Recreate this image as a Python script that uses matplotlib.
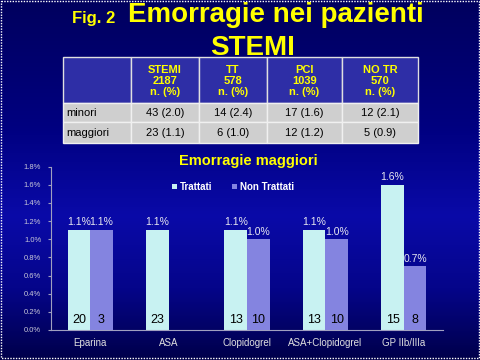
import numpy as np
import matplotlib
matplotlib.use("Agg")
import matplotlib.pyplot as plt
from matplotlib.patches import Rectangle
from matplotlib.colors import LinearSegmentedColormap

# ---------------- data ----------------
categories = ["Eparina", "ASA", "Clopidogrel", "ASA+Clopidogrel", "GP IIb/IIIa"]
trattati = [1.1, 1.1, 1.1, 1.1, 1.6]
non_trattati = [1.1, np.nan, 1.0, 1.0, 0.7]
n_trattati = ["20", "23", "13", "13", "15"]
n_non_trattati = ["3", "", "10", "10", "8"]
series_names = ["Trattati", "Non Trattati"]
yticks = [0.0, 0.2, 0.4, 0.6, 0.8, 1.0, 1.2, 1.4, 1.6, 1.8]

table_header = ["", "STEMI\n2187\nn. (%)", "TT\n578\nn. (%)", "PCI\n1039\nn. (%)", "NO TR\n570\nn. (%)"]
table_rows = [
    ["minori", "43 (2.0)", "14 (2.4)", "17 (1.6)", "12 (2.1)"],
    ["maggiori", "23 (1.1)", "6 (1.0)", "12 (1.2)", "5 (0.9)"],
]

W, H = 481, 360
FONT = "Liberation Sans"
fig = plt.figure(figsize=(W / 100, H / 100), dpi=100)

# background gradient
bg = fig.add_axes([0, 0, 1, 1])
cmap = LinearSegmentedColormap.from_list(
    "bgc", [(0, "#00005e"), (0.35, "#000080"), (0.6, "#0a0aa8"), (0.8, "#05058a"), (1, "#00004a")])
grad = np.linspace(0, 1, 256).reshape(-1, 1)
bg.imshow(grad, aspect="auto", cmap=cmap, extent=[0, W, H, 0])
bg.set_xlim(0, W)
bg.set_ylim(H, 0)
bg.axis("off")

# dotted border
bg.add_patch(Rectangle((1, 1), W - 3, H - 3, fill=False, edgecolor="white",
                       linestyle=(0, (1, 1)), linewidth=1))

# title
yellow = "#ffff00"
bg.text(72, 22.5, "Fig. 2", color=yellow, fontsize=12, fontweight="bold",
        family=FONT, ha="left", va="baseline")
bg.text(276, 22.5, "Emorragie nei pazienti", color=yellow, fontsize=20,
        fontweight="bold", family=FONT, ha="center", va="baseline")
bg.text(252.5, 55, "STEMI", color=yellow, fontsize=20, fontweight="bold",
        family=FONT, ha="center", va="baseline")

# table
col_edges = [63, 131, 199, 267, 342, 418]
row_edges = [57, 103, 122, 143]
for j in range(5):
    x0, x1 = col_edges[j], col_edges[j + 1]
    y0, y1 = row_edges[0], row_edges[1]
    bg.add_patch(Rectangle((x0, y0), x1 - x0, y1 - y0, facecolor="#2e2ea6",
                           edgecolor="#e0e0e0", linewidth=1))
    if table_header[j]:
        bg.text((x0 + x1) / 2, (y0 + y1) / 2 + 1, table_header[j], color=yellow,
                fontsize=8, fontweight="bold", family=FONT, ha="center",
                va="center", linespacing=1.1)
for i, row in enumerate(table_rows):
    y0, y1 = row_edges[i + 1], row_edges[i + 2]
    for j in range(5):
        x0, x1 = col_edges[j], col_edges[j + 1]
        bg.add_patch(Rectangle((x0, y0), x1 - x0, y1 - y0, facecolor="#cfcfcf",
                               edgecolor="#f0f0f0", linewidth=1))
        if j == 0:
            bg.text(x0 + 3, (y0 + y1) / 2, row[j], color="black", fontsize=8,
                    family=FONT, ha="left", va="center")
        else:
            bg.text((x0 + x1) / 2, (y0 + y1) / 2, row[j], color="black",
                    fontsize=8, family=FONT, ha="center", va="center")

# chart title and legend
bg.text(248, 165, "Emorragie maggiori", color=yellow, fontsize=10.5,
        fontweight="bold", family=FONT, ha="center", va="baseline")
c_t = "#c8f2f2"
c_n = "#8484e0"
bg.add_patch(Rectangle((172, 184), 5, 5, facecolor=c_t, edgecolor="none"))
bg.text(180, 187, series_names[0], color="white", fontsize=7, fontweight="bold",
        family=FONT, ha="left", va="center")
bg.add_patch(Rectangle((232, 184), 5, 5, facecolor=c_n, edgecolor="none"))
bg.text(240, 187, series_names[1], color="white", fontsize=7, fontweight="bold",
        family=FONT, ha="left", va="center")

# chart axes
left, right, top, bottom = 51, 443, 166.7, 330
ax = fig.add_axes([left / W, (H - bottom) / H, (right - left) / W, (bottom - top) / H])
ax.patch.set_alpha(0)
x = np.arange(len(categories))
bw = 0.287
ax.bar(x - bw / 2, trattati, width=bw, color=c_t, edgecolor="none")
ax.bar(x + bw / 2, non_trattati, width=bw, color=c_n, edgecolor="none")
ax.set_xlim(-0.5, len(categories) - 0.5)
ax.set_ylim(0, 1.8)
ax.set_yticks(yticks)
ax.set_yticklabels([f"{v:.1f}%" for v in yticks], color="#c8c8d8", fontsize=5.5, family=FONT)
ax.set_xticks(x)
ax.set_xticklabels(categories, color="#e0e0e0", fontsize=7, family=FONT)
ax.tick_params(axis="y", length=2, color="#a0a0c0", pad=5)
ax.tick_params(axis="x", length=0, pad=6)
for s in ["top", "right"]:
    ax.spines[s].set_visible(False)
for s in ["left", "bottom"]:
    ax.spines[s].set_color("#a0a0c0")
    ax.spines[s].set_linestyle((0, (1, 1)))
    ax.spines[s].set_linewidth(0.8)

for i in range(len(categories)):
    for off, vals, ns in [(-bw / 2, trattati, n_trattati), (bw / 2, non_trattati, n_non_trattati)]:
        v = vals[i]
        if np.isnan(v):
            continue
        ax.text(x[i] + off, v + 0.03, f"{v:.1f}%", color="#e8e8f0", fontsize=7.5,
                family=FONT, ha="center", va="bottom")
        ax.text(x[i] + off, 0.04, ns[i], color="black", fontsize=9,
                family=FONT, ha="center", va="bottom")

fig.savefig("out.png", dpi=100)
